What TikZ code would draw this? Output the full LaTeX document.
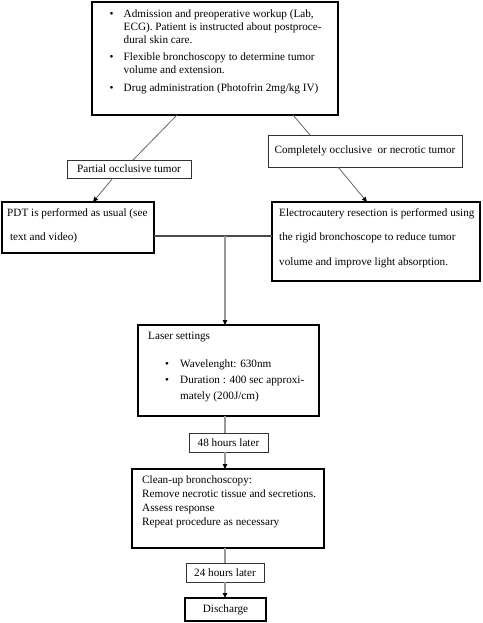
\documentclass[tikz,border=0pt]{standalone}
\usepackage{fontspec}
\setmainfont{Liberation Serif}
\usetikzlibrary{arrows.meta,calc}
\newcommand\tl[2]{\vtop{\baselineskip=#1\relax\lineskiplimit=-20pt\halign{##\hfil\cr#2\crcr}}}
\newcommand\bul{\makebox[14pt][l]{\textbullet}}
\newcommand\ind{\hspace*{14pt}}
\newcommand\bulb{\makebox[15pt][l]{\textbullet}}
\newcommand\indb{\hspace*{15pt}}
\begin{document}
\begin{tikzpicture}[x=1pt,y=-1pt,
  bfont/.style={font=\fontsize{11.2}{13}\selectfont},
  thickbox/.style={draw=black, line width=1.8pt, inner sep=0pt, outer sep=0pt, bfont},
  thinbox/.style={draw=black!80, line width=0.8pt, inner sep=0pt, outer sep=0pt, bfont},
  tx/.style={anchor=base west, inner sep=0pt, bfont},
  conn/.style={draw=black!60, line width=0.8pt},
  hconn/.style={draw=black!70, line width=1.1pt},
  vconn/.style={draw=black!40, line width=1.5pt},
  tip/.style={-{Triangle[length=5pt,width=4.5pt,color=black]}}]
\useasboundingbox (0,0) rectangle (482,623);

% boxes
\node[thickbox, minimum width=246pt, minimum height=113pt] (top) at (215,58.5) {};
\node[thinbox, minimum width=124pt, minimum height=18pt] (part) at (129,169) {Partial occlusive tumor};
\node[thinbox, minimum width=194pt, minimum height=32pt] (comp) at (365,151) {Completely occlusive\ \ or necrotic tumor};
\node[thickbox, minimum width=152pt, minimum height=51pt] (pdt) at (78,227.5) {};
\node[thickbox, minimum width=208pt, minimum height=79pt] (elec) at (376,241.5) {};
\node[thickbox, minimum width=181pt, minimum height=91pt] (laser) at (228.5,370.5) {};
\node[thinbox, minimum width=79pt, minimum height=19pt] (h48) at (228.5,442.5) {48 hours later};
\node[thickbox, minimum width=192pt, minimum height=79pt] (clean) at (228,508.5) {};
\node[thinbox, minimum width=78pt, minimum height=19pt] (h24) at (225,572.5) {24 hours later};
\node[thickbox, minimum width=81pt, minimum height=23pt] (dis) at (225.5,609.5) {Discharge};

% texts
\node[tx] (toptext) at (109.5,17.6) {\tl{13pt}{\bul Admission and preoperative workup (Lab,\cr
\ind ECG). Patient is instructed about postproce-\cr
\ind dural skin care.\cr\noalign{\vskip4.3pt}
\bul Flexible bronchoscopy to determine tumor\cr
\ind volume and extension.\cr\noalign{\vskip4.3pt}
\bul Drug administration (Photofrin 2mg/kg IV)}};
\node[tx] (pdttext) at (7,216) {\tl{24pt}{PDT is performed as usual (see\cr \ text and video)}};
\node[tx] (electext) at (279,216) {\tl{24.7pt}{Electrocautery resection is performed using\cr
the rigid bronchoscope to reduce tumor\cr volume and improve light absorption.}};
\node[tx] (lasertext) at (148,339.3) {\tl{15.9pt}{Laser settings\cr\noalign{\vskip12.4pt}
\hspace*{17pt}\bulb Wavelenght: 630nm\cr
\hspace*{17pt}\bulb Duration : 400 sec approxi-\cr
\hspace*{17pt}\indb mately (200J/cm)}};
\node[tx] (cleantext) at (142,483.6) {\tl{14.1pt}{Clean-up bronchoscopy:\cr
Remove necrotic tissue and secretions.\cr Assess response\cr Repeat procedure as necessary}};

% connectors
\draw[conn] ([xshift=85pt]top.south west) -- ([xshift=66pt]part.north west);
\draw[conn,tip] ([xshift=46pt]part.south west) -- ([xshift=91pt]pdt.north west);
\draw[conn] ([xshift=201pt]top.south west) -- ([xshift=42pt]comp.north west);
\draw[conn,tip] ([xshift=70pt]comp.south west) -- ([xshift=95pt]elec.north west);
\coordinate (j) at (225,236);
\draw[hconn] (pdt.east |- j) -- (elec.west |- j);
\draw[vconn,tip] (j) -- (j |- laser.north);
\draw[vconn] (j |- laser.south) -- (j |- h48.north);
\draw[vconn,tip] (j |- h48.south) -- (j |- clean.north);
\draw[vconn] (j |- clean.south) -- (j |- h24.north);
\draw[vconn,tip] (j |- h24.south) -- (j |- dis.north);
\end{tikzpicture}
\end{document}
